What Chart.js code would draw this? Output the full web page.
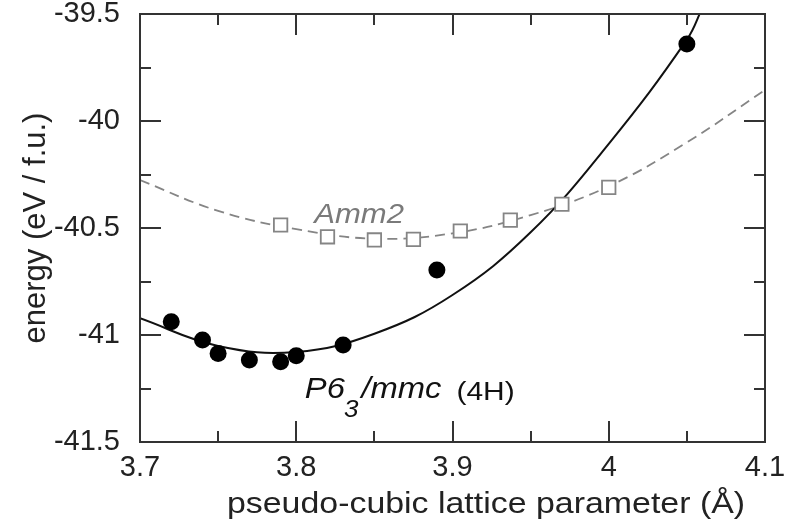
<!DOCTYPE html>
<html>
<head>
<meta charset="utf-8">
<script src="https://cdn.jsdelivr.net/npm/chart.js@4"></script>
<style>
	body { margin: 0; background: #fff; }
</style>
</head>
<body>
<canvas id="myChart" width="788" height="523"></canvas>
<script>
// data
const xTicks = [3.7, 3.8, 3.9, 4.0, 4.1];
const xTickLabels = ['3.7', '3.8', '3.9', '4', '4.1'];
const yTicks = [-41.5, -41, -40.5, -40, -39.5];
const yTickLabels = ['-41.5', '-41', '-40.5', '-40', '-39.5'];

// P6_3/mmc (4H) calculated points
const p63X = [3.72, 3.74, 3.75, 3.77, 3.79, 3.80, 3.83, 3.89, 4.05];
const p63E = [-40.938, -41.023, -41.086, -41.117, -41.125, -41.097, -41.047, -40.696, -39.64];

// Amm2 calculated points
const amm2X = [3.79, 3.82, 3.85, 3.875, 3.905, 3.937, 3.97, 4.00];
const amm2E = [-40.486, -40.541, -40.556, -40.553, -40.514, -40.463, -40.389, -40.31];

// fitted curves, read at fixed lattice parameters
const p63FitX = [3.70, 3.75, 3.80, 3.85, 3.90, 3.95, 4.00, 4.05, 4.06];
const p63FitE = [-40.922, -41.051, -41.079, -40.994, -40.813, -40.52, -40.107, -39.62, -39.47];
const amm2FitX = [3.70, 3.75, 3.80, 3.85, 3.90, 3.95, 4.00, 4.05, 4.10];
const amm2FitE = [-40.276, -40.42, -40.505, -40.55, -40.525, -40.44, -40.305, -40.10, -39.855];

const xTitle = 'pseudo-cubic lattice parameter (Å)';
const yTitle = 'energy (eV / f.u.)';

const COLORS = {
	black: '#111',
	gray: '#858585',
	label: '#7a7a7a',
	frame: '#333',
	text: '#222'
};
const FONT = "'Liberation Sans', Arial, Helvetica, sans-serif";
const STRETCH = 1.13; // the source figure is a bit wider than tall

const toPoints = (xs, ys) => xs.map((x, i) => ({ x, y: ys[i] }));

// draws text stretched horizontally, returns the advance width
const drawText = (c, str, x, y, font, align = 'left') => {
	c.save();
	c.font = font;
	c.textAlign = align;
	c.translate(x, y);
	c.scale(STRETCH, 1);
	c.fillText(str, 0, 0);
	const w = c.measureText(str).width * STRETCH;
	c.restore();
	return w;
};

// frame with inward ticks on all four sides, plus the phase labels and x title
const frameTicks = {
	id: 'frameTicks',
	afterDatasetsDraw(chart) {
		const { ctx, chartArea: a, scales: { x, y } } = chart;
		ctx.save();
		ctx.strokeStyle = COLORS.frame;
		ctx.lineWidth = 2;
		ctx.beginPath();

		const major = 21, minor = 11;
		const xMinor = xTicks.slice(1).map((v, i) => (v + xTicks[i]) / 2);
		const yMinor = yTicks.slice(1).map((v, i) => (v + yTicks[i]) / 2);

		const xTick = (v, len) => {
			const px = Math.round(x.getPixelForValue(v));
			ctx.moveTo(px, a.bottom); ctx.lineTo(px, a.bottom - len);
			ctx.moveTo(px, a.top); ctx.lineTo(px, a.top + len);
		};
		const yTick = (v, len) => {
			const py = Math.round(y.getPixelForValue(v));
			ctx.moveTo(a.left, py); ctx.lineTo(a.left + len, py);
			ctx.moveTo(a.right, py); ctx.lineTo(a.right - len, py);
		};
		xTicks.forEach(v => xTick(v, major));
		xMinor.forEach(v => xTick(v, minor));
		yTicks.forEach(v => yTick(v, major));
		yMinor.forEach(v => yTick(v, minor));
		ctx.stroke();
		ctx.strokeRect(a.left, a.top, a.right - a.left, a.bottom - a.top);

		ctx.textBaseline = 'alphabetic';

		// phase labels
		ctx.fillStyle = COLORS.label;
		drawText(ctx, 'Amm2', x.getPixelForValue(3.8115), y.getPixelForValue(-40.475), `italic 27.5px ${FONT}`);

		ctx.fillStyle = COLORS.black;
		let px = x.getPixelForValue(3.8055);
		const base = y.getPixelForValue(-41.295);
		px += drawText(ctx, 'P6', px, base, `italic 29px ${FONT}`);
		px += drawText(ctx, '3', px - 1, base + 19, `italic 23px ${FONT}`) + 2;
		drawText(ctx, '/mmc', px, base, `italic 29px ${FONT}`);
		drawText(ctx, '(4H)', x.getPixelForValue(3.9025), base + 2, `26.5px ${FONT}`);

		// x axis title
		ctx.fillStyle = COLORS.text;
		ctx.textBaseline = 'middle';
		drawText(ctx, xTitle, 486, 505, `30px ${FONT}`, 'center');
		ctx.restore();
	}
};

// chart
const ctx = document.getElementById('myChart');

new Chart(ctx, {
	type: 'scatter',
	data: {
		datasets: [
			{
				data: toPoints(p63X, p63E),
				pointRadius: 8.5,
				pointBackgroundColor: '#000',
				pointBorderWidth: 0,
				order: 0
			},
			{
				data: toPoints(amm2X, amm2E),
				pointStyle: 'rect',
				pointRadius: 9.5,
				pointBackgroundColor: '#fff',
				pointBorderColor: COLORS.gray,
				pointBorderWidth: 1.8,
				order: 1
			},
			{
				data: toPoints(p63FitX, p63FitE),
				showLine: true,
				pointRadius: 0,
				borderColor: COLORS.black,
				borderWidth: 2,
				tension: 0.4,
				order: 2
			},
			{
				data: toPoints(amm2FitX, amm2FitE),
				showLine: true,
				pointRadius: 0,
				borderColor: COLORS.gray,
				borderWidth: 1.8,
				borderDash: [10, 6],
				tension: 0.4,
				order: 3
			}
		]
	},
	options: {
		responsive: false,
		animation: false,
		devicePixelRatio: 1,
		events: [],
		layout: {
			padding: { top: 14, right: 23, bottom: 0, left: 0 }
		},
		plugins: {
			legend: { display: false },
			tooltip: { enabled: false }
		},
		scales: {
			x: {
				type: 'linear',
				min: 3.7,
				max: 4.1,
				afterBuildTicks: s => { s.ticks = xTicks.map(v => ({ value: v })) },
				afterFit: s => { s.height = 81; s.paddingLeft = 0; s.paddingRight = 0 },
				grid: { display: false },
				border: { display: false },
				ticks: {
					padding: 1,
					maxRotation: 0,
					autoSkip: false,
					color: COLORS.text,
					font: { size: 29, family: FONT },
					callback: v => xTickLabels[xTicks.findIndex(t => Math.abs(t - v) < 1e-6)]
				},
				title: { display: false }
			},
			y: {
				type: 'linear',
				min: -41.5,
				max: -39.5,
				afterBuildTicks: s => { s.ticks = yTicks.map(v => ({ value: v })) },
				afterFit: s => { s.width = 140; s.paddingTop = 0; s.paddingBottom = 0 },
				grid: { display: false },
				border: { display: false },
				ticks: {
					padding: 12,
					autoSkip: false,
					color: COLORS.text,
					font: { size: 29, family: FONT },
					callback: v => yTickLabels[yTicks.findIndex(t => Math.abs(t - v) < 1e-6)]
				},
				title: {
					display: true,
					text: yTitle,
					color: COLORS.text,
					font: { size: 31, family: FONT },
					padding: { top: 18, bottom: 0 }
				}
			}
		}
	},
	plugins: [frameTicks]
});
</script>
</body>
</html>
